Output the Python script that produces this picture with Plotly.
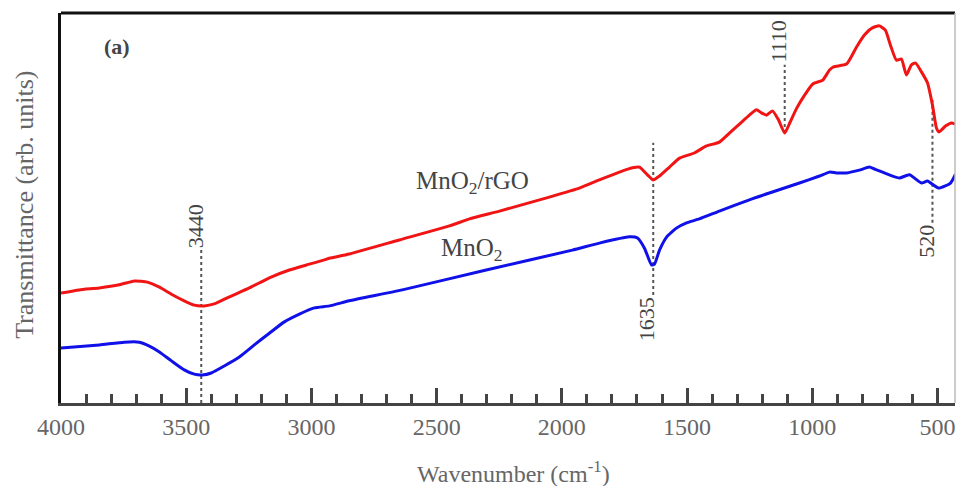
import plotly.graph_objects as go

# FTIR spectra (transmittance, arbitrary units) vs wavenumber (cm^-1)
wn_rgo = [4000, 3927, 3847, 3767, 3707, 3655, 3607, 3559, 3508, 3468, 3428, 3388,
          3328, 3248, 3168, 3088, 3008, 2948, 2928, 2849, 2649, 2449, 2369, 2249,
          2050, 1930, 1850, 1770, 1718, 1690, 1658, 1636, 1610, 1570, 1530, 1471,
          1423, 1371, 1331, 1291, 1251, 1223, 1203, 1183, 1159, 1135, 1110, 1090,
          1062, 1030, 998, 958, 931, 915, 863, 823, 791, 760, 732, 708, 688, 664,
          644, 624, 604, 588, 564, 540, 520, 504, 494, 468, 444, 428]
t_rgo = [28.2, 29.0, 29.5, 30.3, 31.3, 31.0, 29.7, 27.9, 26.2, 25.1, 24.9, 25.4,
         27.2, 29.5, 32.1, 34.1, 35.6, 36.7, 37.1, 38.2, 41.8, 45.4, 47.2, 49.2,
         52.8, 55.1, 57.2, 59.2, 60.3, 60.5, 58.5, 57.2, 58.2, 60.5, 62.8, 64.1,
         65.9, 66.9, 69.2, 71.5, 73.8, 75.2, 74.4, 73.8, 74.9, 72.6, 69.2, 71.8,
         75.6, 79.0, 81.8, 82.8, 85.4, 86.2, 86.9, 91.3, 94.4, 96.2, 96.7, 95.6,
         91.8, 87.9, 88.2, 84.1, 86.7, 87.2, 84.9, 82.1, 76.4, 70.5, 69.5, 71.0,
         71.8, 71.5]

wn_mno2 = [4000, 3847, 3747, 3687, 3647, 3607, 3559, 3508, 3468, 3436, 3400, 3348,
           3288, 3228, 3168, 3108, 3048, 2988, 2928, 2849, 2637, 2302, 1958, 1850,
           1730, 1698, 1670, 1642, 1630, 1610, 1581, 1541, 1502, 1451, 1371, 1251,
           1159, 1051, 971, 931, 904, 863, 812, 772, 752, 692, 652, 612, 564, 540,
           496, 448, 428]
t_mno2 = [14.1, 14.9, 15.6, 15.6, 14.6, 13.1, 10.8, 8.5, 7.4, 7.2, 7.7, 9.5,
          11.8, 14.9, 17.9, 20.8, 22.8, 24.4, 24.9, 26.2, 29.0, 34.1, 39.2, 41.0,
          42.6, 42.3, 39.7, 35.4, 35.6, 39.2, 42.6, 44.9, 46.2, 47.2, 49.2, 52.1,
          54.1, 56.4, 58.2, 59.2, 59.0, 59.0, 59.7, 60.5, 60.0, 58.5, 57.7, 58.5,
          56.4, 56.9, 55.1, 56.4, 58.7]

# marked absorption bands: position, dotted span (low, high), label side
band_pos = [3440, 1635, 1110, 520]
band_low = [0.0, 27.7, 69.2, 46.2]
band_high = [39.2, 66.7, 86.7, 77.7]
band_label_below = [False, True, False, True]

x_ticks = [4000, 3500, 3000, 2500, 2000, 1500, 1000, 500]

FONT = "Liberation Serif"

fig = go.Figure()

fig.add_trace(go.Scatter(x=wn_rgo, y=t_rgo, mode="lines", name="MnO2/rGO",
                         line=dict(color="#f01414", width=3, shape="spline", smoothing=0.5)))
fig.add_trace(go.Scatter(x=wn_mno2, y=t_mno2, mode="lines", name="MnO2",
                         line=dict(color="#1010e8", width=3, shape="spline", smoothing=0.5)))

for pos, lo, hi, below in zip(band_pos, band_low, band_high, band_label_below):
    fig.add_shape(type="line", xref="x", yref="y", x0=pos, x1=pos, y0=lo, y1=hi,
                  line=dict(color="#555555", width=2, dash="dot"), layer="below")
    fig.add_annotation(x=pos, y=lo if below else hi, xref="x", yref="y",
                       text=str(pos), textangle=-90, showarrow=False,
                       xanchor="center", yanchor="top" if below else "bottom",
                       xshift=-6, font=dict(family=FONT, size=22, color="#444444"))

fig.add_annotation(x=2357, y=56.6, xref="x", yref="y", text="MnO<sub>2</sub>/rGO",
                   showarrow=False, xanchor="center", yanchor="middle",
                   font=dict(family=FONT, size=25, color="#444444"))
fig.add_annotation(x=2359, y=39.4, xref="x", yref="y", text="MnO<sub>2</sub>",
                   showarrow=False, xanchor="center", yanchor="middle",
                   font=dict(family=FONT, size=25, color="#444444"))
fig.add_annotation(x=0.0626, y=0.915, xref="paper", yref="paper", text="<b>(a)</b>",
                   showarrow=False, xanchor="center", yanchor="middle",
                   font=dict(family=FONT, size=22, color="#444444"))

# axis titles
fig.add_annotation(x=-0.0403, y=0.508, xref="paper", yref="paper",
                   text="Transmittance (arb. units)", textangle=-90, showarrow=False,
                   xanchor="center", yanchor="middle",
                   font=dict(family=FONT, size=26, color="#666666"))
fig.add_annotation(x=0.5056, y=-0.176, xref="paper", yref="paper",
                   text="Wavenumber (cm<sup>-1</sup>)", showarrow=False,
                   xanchor="center", yanchor="middle",
                   font=dict(family=FONT, size=24, color="#666666"))

# frame: top in black, right edge faint
fig.add_shape(type="line", xref="paper", yref="paper", x0=0, x1=1, y0=1, y1=1,
              line=dict(color="#111111", width=3))
fig.add_shape(type="line", xref="paper", yref="paper", x0=1, x1=1, y0=0, y1=1,
              line=dict(color="#bbbbbb", width=1.5))

fig.update_layout(
    width=960, height=486,
    margin=dict(l=61, r=5, t=13, b=83),
    paper_bgcolor="white", plot_bgcolor="white",
    showlegend=False,
    xaxis=dict(range=[4000, 430], tickvals=x_ticks, ticktext=[str(v) for v in x_ticks],
               ticks="inside", ticklen=15, tickwidth=3, tickcolor="#444444",
               minor=dict(ticks="inside", ticklen=9, tickwidth=3, tickcolor="#444444", dtick=100, tick0=0),
               showline=True, linecolor="#444444", linewidth=3,
               showgrid=False, zeroline=False,
               tickfont=dict(family=FONT, size=24, color="#666666")),
    yaxis=dict(range=[0, 100], showticklabels=False, ticks="", showgrid=False,
               zeroline=False, showline=True, linecolor="#111111", linewidth=3),
)

fig.write_html("out.html")
